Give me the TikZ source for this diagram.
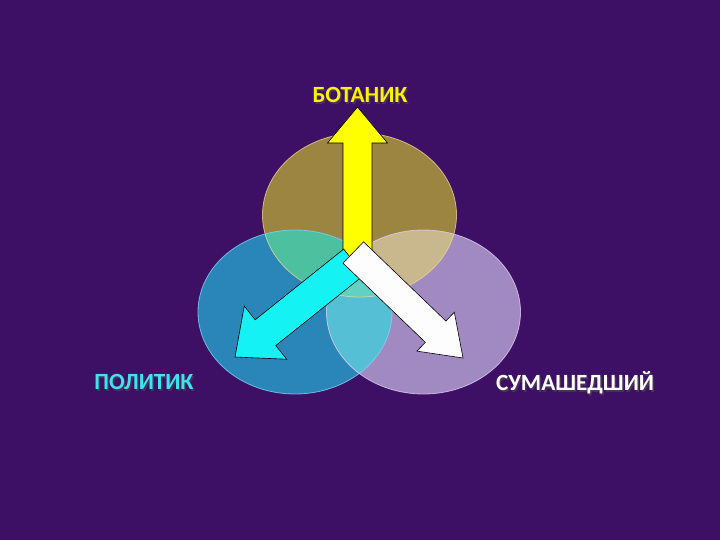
\documentclass[tikz,border=0pt]{standalone}
\usepackage{fontspec}
\setmainfont{Carlito}
\usetikzlibrary{calc}
\definecolor{bgc}{HTML}{3D1066}
\definecolor{topc}{HTML}{9B8540}
\definecolor{leftc}{HTML}{2A86B8}
\definecolor{rightc}{HTML}{A18AC2}
\definecolor{tlc}{HTML}{4DC0A0}
\definecolor{trc}{HTML}{C9B88E}
\definecolor{lrc}{HTML}{55BFD5}
\definecolor{cenc}{HTML}{62D0C2}
\definecolor{topline}{HTML}{E6D68E}
\definecolor{leftline}{HTML}{80D2F0}
\definecolor{rightline}{HTML}{DCCCF2}
\definecolor{yarrow}{HTML}{FFFF00}
\definecolor{carrow}{HTML}{14F2F4}
\definecolor{warrow}{HTML}{FDFDFD}
\definecolor{ctext}{HTML}{3FE2F2}
\definecolor{ytext}{HTML}{FFF200}
\tikzset{
  lbl/.style={font=\fontsize{23.2}{26}\selectfont\bfseries, inner sep=0pt, anchor=center},
  shadowlbl/.style={lbl, text=black!70, opacity=0.6},
  blockarrow/.style={draw=black, line width=0.6pt, line join=miter},
}
% block arrow: #1 tail, #2 tip, #3 shaft half width, #4 head half width, #5 head length, #6 fill
\newcommand{\blockarr}[6]{%
  \coordinate (hb) at ($(#2)!#5!(#1)$);
  \filldraw[blockarrow, fill=#6]
    ($(#1)!#3!90:(#2)$) -- ($(hb)!#3!90:(#2)$) -- ($(hb)!#4!90:(#2)$) -- (#2)
    -- ($(hb)!#4!-90:(#2)$) -- ($(hb)!#3!-90:(#2)$) -- ($(#1)!#3!-90:(#2)$) -- cycle;
}
\begin{document}
\begin{tikzpicture}[x=1pt,y=-1pt]
\fill[bgc] (0,0) rectangle (720,540);
\useasboundingbox (0,0) rectangle (720,540);
% ellipse centres
\coordinate (ct) at (359.5,215);
\coordinate (cl) at (295,312);
\coordinate (cr) at (423.5,312);
\def\rx{97}\def\ry{82}
% fills
\fill[topc] (ct) ellipse [x radius=\rx, y radius=\ry];
\fill[leftc] (cl) ellipse [x radius=\rx, y radius=\ry];
\fill[rightc] (cr) ellipse [x radius=\rx, y radius=\ry];
\begin{scope}
  \clip (ct) ellipse [x radius=\rx, y radius=\ry];
  \fill[tlc] (cl) ellipse [x radius=\rx, y radius=\ry];
  \fill[trc] (cr) ellipse [x radius=\rx, y radius=\ry];
\end{scope}
\begin{scope}
  \clip (cl) ellipse [x radius=\rx, y radius=\ry];
  \fill[lrc] (cr) ellipse [x radius=\rx, y radius=\ry];
  \clip (ct) ellipse [x radius=\rx, y radius=\ry];
  \fill[cenc] (cr) ellipse [x radius=\rx, y radius=\ry];
\end{scope}
% outlines
\draw[topline, line width=0.8pt, opacity=0.8] (ct) ellipse [x radius=\rx, y radius=\ry];
\draw[leftline, line width=0.8pt, opacity=0.8] (cl) ellipse [x radius=\rx, y radius=\ry];
\draw[rightline, line width=0.8pt, opacity=0.8] (cr) ellipse [x radius=\rx, y radius=\ry];
% arrows
\coordinate (yT) at (357.5,258);
\coordinate (yP) at (357.5,107);
\coordinate (cT) at (354,262);
\coordinate (cP) at (235,357);
\coordinate (wT) at (353.3,252.5);
\coordinate (wP) at (463,358);
\blockarr{yT}{yP}{14.5pt}{30pt}{36pt}{yarrow}
\blockarr{cT}{cP}{16.5pt}{34pt}{39pt}{carrow}
\blockarr{wT}{wP}{14.8pt}{27pt}{38pt}{warrow}
% labels
\node[shadowlbl] at (361.5,96.5) {БОТАНИК};
\node[lbl, text=ytext] (bot) at (360,95) {БОТАНИК};
\node[shadowlbl] at (145.5,383.5) {ПОЛИТИК};
\node[lbl, text=ctext] (pol) at (144,382) {ПОЛИТИК};
\node[shadowlbl] at (576.5,384.5) {СУМАШЕДШИЙ};
\node[lbl, text=white] (sum) at (575,383) {СУМАШЕДШИЙ};
\end{tikzpicture}
\end{document}
